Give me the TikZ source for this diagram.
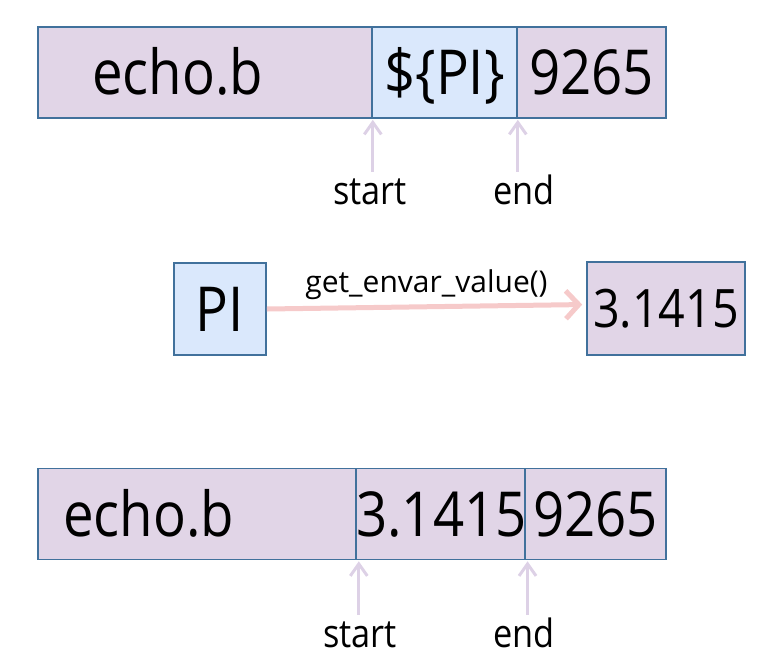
\documentclass[tikz,border=0pt]{standalone}
\usepackage{fontspec}
\setmainfont{Open Sans}
\newfontfamily\cellfont[FakeStretch=0.88]{Open Sans}
\usetikzlibrary{arrows.meta}
\definecolor{cellline}{RGB}{65,113,156}
\definecolor{strfill}{RGB}{225,213,231}
\definecolor{varfill}{RGB}{218,232,252}
\definecolor{ptrline}{RGB}{221,209,230}
\definecolor{callline}{RGB}{246,202,202}
\tikzset{
  cell/.style={draw=cellline, line width=1.6pt, minimum height=91pt, inner sep=0pt,
    font=\cellfont\fontsize{62}{70}\selectfont, text height=44pt, text depth=0pt},
  strcell/.style={cell, fill=strfill},
  varcell/.style={cell, fill=varfill},
  ptr/.style={draw=ptrline, line width=3pt, -{Straight Barb[length=12pt,width=17pt]}},
  ptrname/.style={font=\cellfont\fontsize{39}{46}\selectfont, inner sep=0pt, anchor=base,
    text height=29pt, text depth=0pt},
  call/.style={draw=callline, line width=5pt, -{Straight Barb[length=13pt,width=28pt]}},
}
\begin{document}
\begin{tikzpicture}[x=1pt,y=-1pt]
        \useasboundingbox (0,0) rectangle (774,662);
        % string before expansion
        \node[strcell, minimum width=334pt, text width=226pt, inner xsep=54pt, align=left] (echoA) at (205,72.5) {echo.b};
        \node[varcell, minimum width=145pt] (varA) at (444.5,72.5) {\$\{PI\}};
        \node[strcell, minimum width=149pt] (tailA) at (591.5,72.5) {9265};
        \node[ptrname] (startA) at (370,204) {start};
        \node[ptrname] (endA) at (524,204) {end};
        \draw[ptr, shorten <=3pt, shorten >=1pt] (startA.north -| echoA.south east) -- (echoA.south east);
        \draw[ptr, shorten <=3pt, shorten >=1pt] (endA.north -| varA.south east) -- (varA.south east);

        % lookup of the variable
        \node[varcell, minimum width=92pt, minimum height=92pt] (piVar) at (220,309) {PI};
        \node[strcell, minimum width=158pt, minimum height=93pt, font=\cellfont\fontsize{53}{60}\selectfont,
          text height=38pt] (piVal) at (666,308.5) {3.1415};
        \draw[call, shorten >=4pt] (piVar.east) -- node[above=5pt, font=\fontsize{30}{36}\selectfont, inner sep=0pt] {get\_envar\_value()} ([yshift=4pt]piVal.west);

        % string after expansion
        \node[strcell, minimum width=320pt, text width=270pt, inner xsep=25pt, align=left] (echoB) at (198,514) {echo.b};
        \node[strcell, minimum width=167pt] (valB) at (441.5,514) {3.1415};
        \node[strcell, minimum width=141pt] (tailB) at (595.5,514) {9265};
        \node[ptrname] (startB) at (360,647) {start};
        \node[ptrname] (endB) at (524,647) {end};
        \draw[ptr, shorten <=3pt, shorten >=1pt] (startB.north -| echoB.south east) -- (echoB.south east);
        \draw[ptr, shorten <=3pt, shorten >=1pt] (endB.north -| valB.south east) -- (valB.south east);
\end{tikzpicture}
\end{document}
